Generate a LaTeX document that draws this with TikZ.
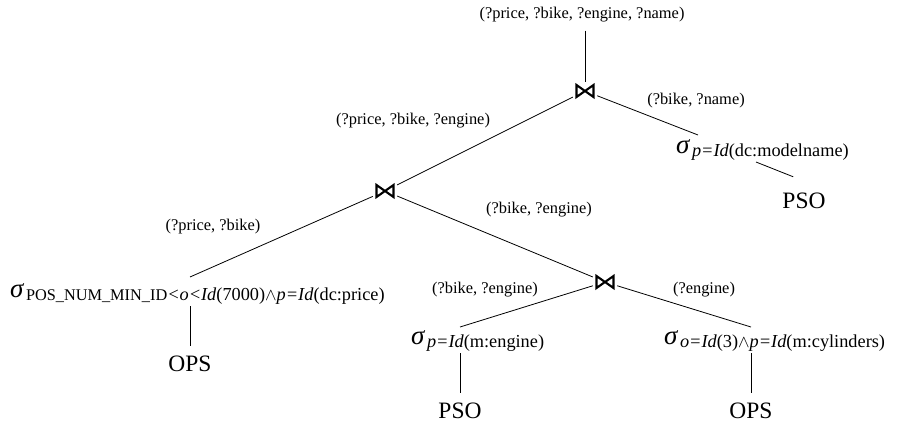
\documentclass[tikz,border=0pt]{standalone}
\usepackage{fontspec}
\setmainfont{Liberation Serif}
\usetikzlibrary{calc}

% selection operator: large sigma followed by a lowered condition
\newcommand{\selop}[1]{{\fontsize{27}{27}\selectfont\itshape σ}\hspace{2.5pt}\raisebox{-3.5pt}{\fontsize{18.3}{19}\selectfont #1}}
\newcommand{\idxname}[1]{{\fontsize{16.3}{17}\selectfont #1}}

\begin{document}
\begin{tikzpicture}[x=1pt,y=-1pt,
  lbl/.style={font=\fontsize{16.4}{17}\selectfont, inner sep=0},
  idx/.style={font=\fontsize{23.5}{24}\selectfont, inner sep=0, text height=16pt, text depth=0pt},
  sel/.style={anchor=base west, inner sep=0},
  joinop/.style={inner sep=0, minimum width=24pt, minimum height=18pt},
  bowtie/.style={line width=2.1pt, line join=miter},
  edge/.style={line width=0.8pt}]
\path[use as bounding box] (0,0) rectangle (899,426);

% join operators
\node[joinop] (j1) at (585,91) {};
\node[joinop] (j2) at (385,191) {};
\node[joinop] (j3) at (605,282) {};
\foreach \j in {j1,j2,j3}
  \draw[bowtie] ([shift={(-8.5,-6)}]\j.center) -- ([shift={(8.5,6)}]\j.center)
    -- ([shift={(8.5,-6)}]\j.center) -- ([shift={(-8.5,6)}]\j.center) -- cycle;

% variable lists
\node[lbl] (vtop) at (582,15) {(?price, ?bike, ?engine, ?name)};
\node[lbl] (v12) at (413,121) {(?price, ?bike, ?engine)};
\node[lbl] (v14) at (696,101) {(?bike, ?name)};
\node[lbl] (v21) at (213,227) {(?price, ?bike)};
\node[lbl] (v23) at (539,210) {(?bike, ?engine)};
\node[lbl] (v32) at (485,290) {(?bike, ?engine)};
\node[lbl] (v33) at (704,290) {(?engine)};

% selections
\node[sel] (s4) at (676,153) {\selop{\textit{p=Id}(dc:modelname)}};
\node[sel] (s1) at (10,297) {\selop{\idxname{POS\_NUM\_MIN\_ID}\textit{<o<Id}(7000)$\wedge$\textit{p=Id}(dc:price)}};
\node[sel] (s2) at (411,344) {\selop{\textit{p=Id}(m:engine)}};
\node[sel] (s3) at (664,344) {\selop{\textit{o=Id}(3)$\wedge$\textit{p=Id}(m:cylinders)}};

% indexes
\node[idx] (pso1) at (804,200) {PSO};
\node[idx] (ops1) at (190,363) {OPS};
\node[idx] (pso2) at (460,410) {PSO};
\node[idx] (ops2) at (751,410) {OPS};

% tree edges
\draw[edge] ($(vtop.south -| j1)+(0,8)$) -- (j1);
\draw[edge] (j1) -- (j2);
\draw[edge] (j1) -- ($(s4.base west)+(22,-18)$);
\draw[edge] ($(s4.base west)+(80,9)$) -- ($(pso1.north west)+(11,-15)$);
\draw[edge] (j2) -- ($(s1.base -| ops1)+(0,-20)$);
\draw[edge] (j2) -- (j3);
\draw[edge] (j3) -- ($(s2.base -| pso2)+(0,-17)$);
\draw[edge] (j3) -- ($(s3.base -| ops2)+(0,-17)$);
\draw[edge] ($(s1.base -| ops1)+(0,9)$) -- ($(ops1.north)+(0,-9)$);
\draw[edge] ($(s2.base -| pso2)+(0,9)$) -- ($(pso2.north)+(0,-9)$);
\draw[edge] ($(s3.base -| ops2)+(0,9)$) -- ($(ops2.north)+(0,-9)$);
\end{tikzpicture}
\end{document}
